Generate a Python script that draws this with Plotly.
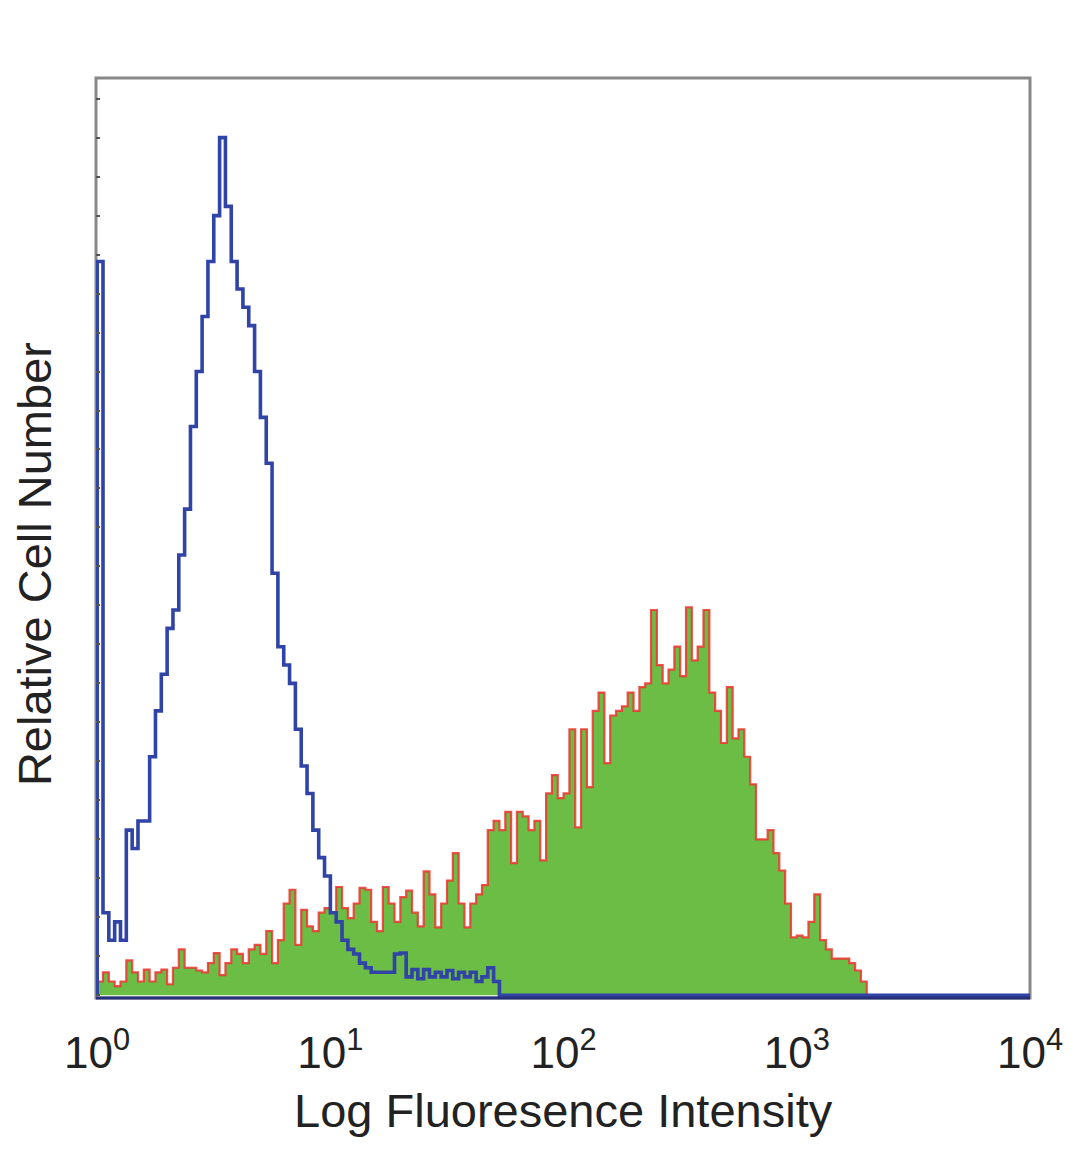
import plotly.graph_objects as go

# channel grid: 40 channels per decade, 10^0 .. 10^4
CH_PER_DECADE = 40
N_CH = 160

# relative cell number per channel
isotype = [80, 9, 6, 8, 6, 18, 16, 19, 19, 26,
           31, 35, 40, 42, 48, 53, 62, 68, 74, 80,
           85, 93.5, 86, 80, 77, 75, 73, 68, 63, 58,
           46, 38, 36, 34, 29, 25, 22, 18, 15, 13,
           9, 8, 6, 5, 4.5, 3.5, 3, 2.5, 2.5, 2.5,
           2.5, 4.5, 4.6, 2, 2.8, 1.8, 2.8, 2, 2.5, 2,
           2.7, 1.8, 2.5, 2, 2.5, 1.5, 2, 3, 1.5]

stained = [1.5, 2.5, 1.5, 1, 1.5, 3.8, 2.5, 1.5, 2.8, 1.5,
           2.5, 2.8, 1.2, 3, 5, 3, 3, 2.7, 2.5, 3.5,
           4.6, 2.2, 3.5, 5, 4.5, 3.5, 5, 5.5, 4.5, 7,
           3.5, 6, 10, 11.5, 5.5, 9.3, 7.5, 7, 9, 9.5,
           9, 11.8, 9.5, 8.4, 10, 11.7, 11.5, 8, 7, 11.8,
           10, 8, 10.7, 11.4, 9, 7.5, 13.5, 11, 7.4, 10,
           12.5, 15.5, 10, 7.4, 10, 11, 12, 18, 19, 18,
           20, 14.4, 20, 19.5, 18, 19, 14.7, 22, 24, 21.5,
           22, 29, 18.3, 29, 22.7, 31, 33, 25.3, 30.5, 31,
           31.5, 33, 31, 33.6, 34, 42, 36, 34, 35.5, 38,
           34.8, 42.3, 36.5, 38, 42, 33, 31, 27.5, 33.6, 28,
           29, 26, 23, 17, 17, 18, 15.5, 13.6, 10, 6.3,
           6.5, 6.3, 8, 11, 6, 5, 4, 4, 4, 3.5,
           2.7, 1.5]

tick_vals = [1, 10, 100, 1000, 10000]
tick_text = ["10<sup>0</sup>", "10<sup>1</sup>", "10<sup>2</sup>",
             "10<sup>3</sup>", "10<sup>4</sup>"]


def step_xy(counts):
    # left edges of every channel, padded with zeros up to 10^4
    full = list(counts) + [0] * (N_CH - len(counts))
    xs = [1.0] + [10 ** (i / CH_PER_DECADE) for i in range(N_CH)] + [10 ** 4]
    ys = [0] + full + [0]
    return xs, ys


fig = go.Figure()

gx, gy = step_xy(stained)
fig.add_trace(go.Scatter(
    x=gx, y=gy,
    mode="lines",
    line=dict(shape="hv", color="rgba(238,50,45,0.85)", width=2.2),
    fill="tozeroy",
    fillcolor="#6cbd45",
    hoverinfo="skip",
    showlegend=False,
))

bx, by = step_xy(isotype)
fig.add_trace(go.Scatter(
    x=bx, y=by,
    mode="lines",
    line=dict(shape="hv", color="#3043a6", width=3.6),
    hoverinfo="skip",
    showlegend=False,
))

font_main = "Liberation Sans, Arial, sans-serif"

# page body has an 8px margin, so the figure is sized to fill the window
fig.update_layout(
    width=1072, height=1161,
    margin=dict(l=88, r=50, t=70, b=171),
    paper_bgcolor="white",
    plot_bgcolor="white",
    font=dict(family=font_main, color="#222222"),
    xaxis=dict(
        type="log",
        range=[-0.005, 4],
        tickvals=tick_vals,
        ticktext=tick_text,
        tickfont=dict(size=44, color="#222222"),
        ticks="",
        showgrid=False,
        zeroline=False,
        showline=False,
        ticklabelstandoff=25,
    ),
    yaxis=dict(
        range=[-0.3, 100],
        showticklabels=False,
        ticks="inside",
        ticklen=4,
        tickwidth=2,
        tickcolor="#555555",
        tick0=0,
        dtick=4.25,
        showgrid=False,
        zeroline=False,
        showline=False,
    ),
    shapes=[
        dict(type="rect", xref="paper", yref="paper", x0=0, y0=0, x1=1, y1=1,
             line=dict(color="#888888", width=3), layer="below"),
        dict(type="line", xref="paper", yref="paper", x0=0, y0=0, x1=1, y1=0,
             line=dict(color="#26307a", width=3), layer="above"),
    ],
    annotations=[
        dict(text="Log Fluoresence Intensity", xref="paper", yref="paper",
             x=0.5, y=-0.122, showarrow=False, yanchor="middle",
             font=dict(size=47, color="#222222")),
        dict(text="Relative Cell Number", xref="paper", yref="paper",
             x=-0.066, y=0.472, showarrow=False, textangle=-90,
             xanchor="center", yanchor="middle",
             font=dict(size=47, color="#222222")),
    ],
)

fig.write_html("out.html")
